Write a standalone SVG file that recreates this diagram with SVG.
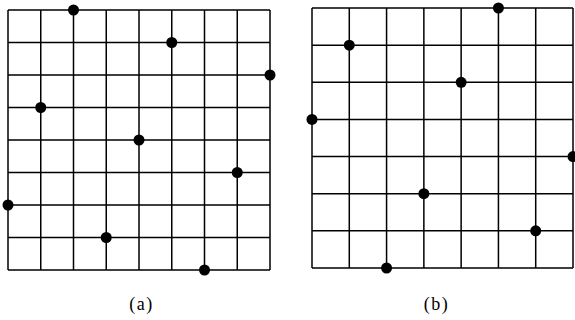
<svg xmlns="http://www.w3.org/2000/svg" width="575" height="320" viewBox="0 0 575 320">
<style>
.g{stroke:#000;stroke-width:1.5;fill:none}
.d{fill:#000}
.t{font-family:"Liberation Serif","DejaVu Serif",serif;font-size:18px;letter-spacing:1.5px;fill:#000;text-anchor:middle}
</style>
<rect width="575" height="320" fill="#fff"/>
<g id="gridA">
<path class="g" d="M8,10H270M8,42.5H270M8,75H270M8,107.5H270M8,140H270M8,172.5H270M8,205H270M8,237.5H270M8,270H270M8,10V270M40.75,10V270M73.5,10V270M106.25,10V270M139,10V270M171.75,10V270M204.5,10V270M237.25,10V270M270,10V270"/>
<g id="dotsA" class="d">
<circle cx="73.5" cy="10" r="5.5"/>
<circle cx="171.75" cy="42.5" r="5.5"/>
<circle cx="270" cy="75" r="5.5"/>
<circle cx="40.75" cy="107.5" r="5.5"/>
<circle cx="139" cy="140" r="5.5"/>
<circle cx="237.25" cy="172.5" r="5.5"/>
<circle cx="8" cy="205" r="5.5"/>
<circle cx="106.25" cy="237.5" r="5.5"/>
<circle cx="204.5" cy="270" r="5.5"/>
</g>
</g>
<g id="gridB">
<path class="g" d="M312,8H573M312,45.14H573M312,82.29H573M312,119.43H573M312,156.57H573M312,193.71H573M312,230.86H573M312,268H573M312,8V268M349.29,8V268M386.57,8V268M423.86,8V268M461.14,8V268M498.43,8V268M535.71,8V268M573,8V268"/>
<g id="dotsB" class="d">
<circle cx="498.43" cy="8" r="5.5"/>
<circle cx="349.29" cy="45.14" r="5.5"/>
<circle cx="461.14" cy="82.29" r="5.5"/>
<circle cx="312" cy="119.43" r="5.5"/>
<circle cx="573" cy="156.57" r="5.5"/>
<circle cx="423.86" cy="193.71" r="5.5"/>
<circle cx="535.71" cy="230.86" r="5.5"/>
<circle cx="386.57" cy="268" r="5.5"/>
</g>
</g>
<text class="t" x="141.5" y="310">(a)</text>
<text class="t" x="436.5" y="310">(b)</text>
</svg>
